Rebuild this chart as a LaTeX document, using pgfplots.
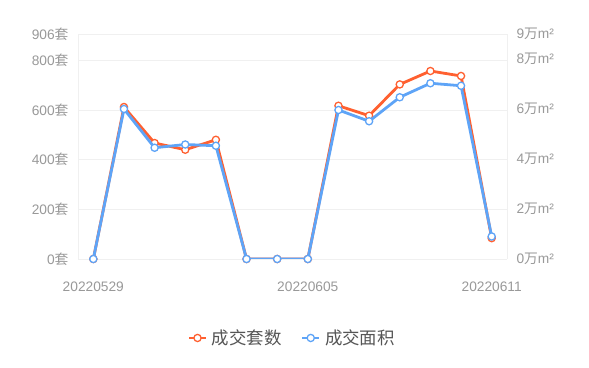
\documentclass[border=0pt]{standalone}
\usepackage{pgfplots}
\pgfplotsset{compat=1.18}
\usepackage{fontspec}
\setmainfont{Liberation Sans}
\newfontfamily\cjk{Noto Sans CJK SC}
\definecolor{cOr}{HTML}{FF6030}
\definecolor{cBl}{HTML}{5EA4F7}
\definecolor{tickc}{HTML}{999999}
\definecolor{gridc}{HTML}{F0F0F0}
\definecolor{legc}{HTML}{555555}
\pgfplotsset{
  base/.style={
    at={(78bp,109bp)}, anchor=south west,
    width=429bp, height=225bp, scale only axis,
    xmin=-0.5, xmax=13.5,
    axis line style={draw=gridc},
    major tick length=0pt,
    ticklabel style={font=\fontsize{13.8}{15}\selectfont, text=tickc},
  },
}
\begin{document}
\begin{tikzpicture}
\path[use as bounding box] (0bp,0bp) rectangle (589bp,368bp);
\begin{axis}[base,
  ymin=0, ymax=906,
  ytick={0,200,400,600,800,906},
  yticklabels={0{\cjk 套},200{\cjk 套},400{\cjk 套},600{\cjk 套},800{\cjk 套},906{\cjk 套}},
  yticklabel style={xshift=-6bp},
  xtick={0,7,13},
  xticklabels={20220529,20220605,20220611},
  xticklabel style={yshift=-19bp},
  ymajorgrids, major grid style={draw=gridc},
  axis y line*=left,
]
\addplot[cOr, line width=2.8bp, mark=*, mark size=3.6bp, mark options={fill=white, draw=cOr, line width=1.3bp}]
  coordinates {(0,0) (1,612) (2,467) (3,440) (4,480) (5,0) (6,0) (7,0) (8,617) (9,577) (10,703) (11,757) (12,737) (13,84)};
\end{axis}
\begin{axis}[base,
  ymin=0, ymax=9,
  ytick={0,2,4,6,8,9},
  yticklabels={0{\cjk 万}m²,2{\cjk 万}m²,4{\cjk 万}m²,6{\cjk 万}m²,8{\cjk 万}m²,9{\cjk 万}m²},
  yticklabel style={xshift=6bp},
  axis y line*=right, axis x line=none,
  legend columns=2,
  legend style={at={(0.5,-0.351)}, anchor=center, draw=none, fill=none,
    font=\cjk\fontsize{17.5}{19}\selectfont, text=legc,
    /tikz/every odd column/.append style={column sep=3bp},
    /tikz/every even column/.append style={column sep=18bp}},
  legend image post style={line width=1.5bp, mark size=3.6bp},
]
\addlegendimage{cOr, line width=1.5bp, mark=*, mark size=3.6bp, mark options={fill=white, draw=cOr, line width=1.3bp}}
\addlegendentry{成交套数}
\addplot[cBl, line width=2.8bp, mark=*, mark size=3.6bp, mark options={fill=white, draw=cBl, line width=1.3bp}]
  coordinates {(0,0) (1,6.0) (2,4.45) (3,4.58) (4,4.53) (5,0) (6,0) (7,0) (8,5.96) (9,5.51) (10,6.47) (11,7.03) (12,6.93) (13,0.9)};
\addlegendentry{成交面积}
\end{axis}
\end{tikzpicture}
\end{document}
